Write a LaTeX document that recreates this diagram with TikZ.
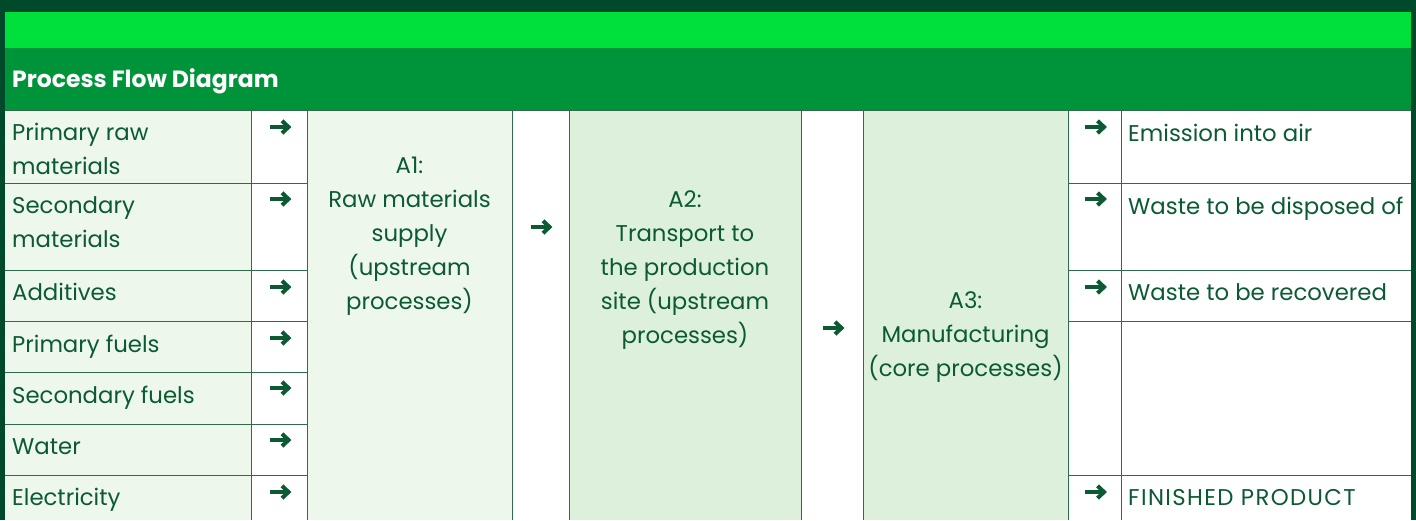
\documentclass[tikz,border=0pt]{standalone}
\usepackage{fontspec}
\setmainfont{Poppins}
\definecolor{rahmen}{HTML}{004A2C}
\definecolor{hellgruen}{HTML}{00E03C}
\definecolor{kopfgruen}{HTML}{00943A}
\definecolor{zelle}{HTML}{EEF7EC}
\definecolor{zellezwei}{HTML}{DDF0DB}
\definecolor{schrift}{HTML}{0B5A33}
\definecolor{linie}{HTML}{2E6B4B}
\def\feld#1#2#3#4#5{
	\fill[color=#5] (#1,#2) rectangle (#3,#4);
}
\def\pfeilzeichen{\tikz[x=1pt,y=1pt,line width=4pt,color=schrift]{
	\draw (-11,0) -- (7,0);
	\draw[miter limit=4] (1.5,-6.2) -- (8,0) -- (1.5,6.2);}}

\begin{document}
\begin{tikzpicture}[x=1pt,y=-1pt,
	every node/.style={inner sep=0pt},
	zelltext/.style={text=schrift,font=\fontsize{22.8}{34}\selectfont},
	pfeil/.style={inner sep=0pt},
	gitter/.style={draw=linie,line width=1pt}]

\useasboundingbox (0,0) rectangle (1416,520);

% Rahmen und Kopf
\feld{0}{0}{1416}{520}{rahmen}
\feld{5}{12}{1411}{48}{hellgruen}
\feld{5}{48}{1411}{110}{kopfgruen}

% Spalten
\feld{5}{110}{251}{520}{zelle}
\feld{251}{110}{307}{520}{white}
\feld{307}{110}{512}{520}{zelle}
\feld{512}{110}{569}{520}{white}
\feld{569}{110}{801}{520}{zellezwei}
\feld{801}{110}{863}{520}{white}
\feld{863}{110}{1068}{520}{zellezwei}
\feld{1068}{110}{1411}{520}{white}

\foreach \x in {251,307,512,569,801,863,1068,1121}{
	\draw[gitter] (\x,110) -- (\x,520);
}
\foreach \y in {183,270,321,372,424,475}{
	\draw[gitter] (5,\y) -- (307,\y);
}
\foreach \y in {183,270,321,475}{
	\draw[gitter] (1068,\y) -- (1411,\y);
}
\draw[gitter] (5,110) -- (1411,110);

\node[anchor=base west,text=white,font=\bfseries\fontsize{23.5}{23.5}\selectfont] (titel) at (12,87) {Process Flow Diagram};

% Eingaenge
\foreach \y/\t/\n in {174/{Primary raw\\materials}/rohstoff,
	247/{Secondary\\materials}/sekundaer,
	300/{Additives}/zusatz,
	352/{Primary fuels}/brennstoff,
	403/{Secondary fuels}/sekbrenn,
	454/{Water}/wasser,
	505/{Electricity}/strom}{
	\node[zelltext,anchor=base west,align=left] (\n) at (12,\y) {\t};
}
\foreach \y/\n in {127/pa,199/pb,287/pc,338/pd,388/pe,440/pf,492/pg}{
	\node[pfeil] (\n) at (279,\y) {\pfeilzeichen};
}

% Module
\node[zelltext,anchor=base,align=center] (aeins) at (409.5,309)
	{A1:\\Raw materials\\supply\\(upstream\\processes)};
\node[zelltext,anchor=base,align=center] (azwei) at (685,343)
	{A2:\\Transport to\\the production\\site (upstream\\processes)};
\node[zelltext,anchor=base,align=center] (adrei) at (965.5,376)
	{A3:\\Manufacturing\\(core processes)};
\node[pfeil] (pab) at (540,227) {\pfeilzeichen};
\node[pfeil] (pbc) at (832,328) {\pfeilzeichen};

% Ausgaenge
\foreach \y/\t/\n in {141/{Emission into air}/luft,
	214/{Waste to be disposed of}/beseitigung,
	300/{Waste to be recovered}/verwertung}{
	\node[zelltext,anchor=base west] (\n) at (1128,\y) {\t};
}
\node[zelltext,anchor=base west] (produkt) at (1128,505)
	{\addfontfeature{LetterSpace=6}FINISHED PRODUCT};
\foreach \y/\n in {127/qa,199/qb,287/qc,492/qd}{
	\node[pfeil] (\n) at (1094.5,\y) {\pfeilzeichen};
}

\end{tikzpicture}
\end{document}
